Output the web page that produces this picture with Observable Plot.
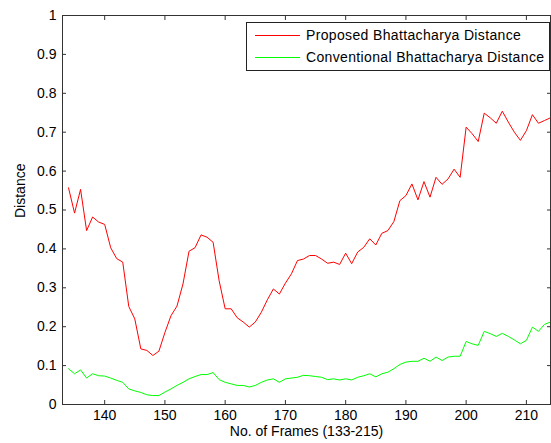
<!DOCTYPE html>
<html>
<head>
<meta charset="utf-8">
<script src="https://cdn.jsdelivr.net/npm/d3@7"></script>
<script src="https://cdn.jsdelivr.net/npm/@observablehq/plot@0.6"></script>
<style>
  body { margin: 0; background: #fff; }
  #wrap { position: relative; width: 551px; height: 443px; font-family: "Liberation Sans", Arial, sans-serif; }
  #legend { position: absolute; left: 246px; top: 22px; width: 304px; height: 49px; box-sizing: border-box;
            border: 1px solid #222; background: #fff; padding-top: 1px; font-size: 14px; letter-spacing: 0.35px; color: #000; }
  .row { height: 22px; display: flex; align-items: center; padding-left: 8px; }
  .sw { display: inline-block; width: 45px; height: 1px; margin-right: 6px; }
</style>
</head>
<body>
<div id="wrap"></div>
<script>
// Frame numbers (x)
const frames = [134,135,136,137,138,139,140,141,142,143,
                144,145,146,147,148,149,150,151,152,153,
                154,155,156,157,158,159,160,161,162,163,
                164,165,166,167,168,169,170,171,172,173,
                174,175,176,177,178,179,180,181,182,183,
                184,185,186,187,188,189,190,191,192,193,
                194,195,196,197,198,199,200,201,202,203,
                204,205,206,207,208,209,210,211,212,213,
                214];
// Proposed Bhattacharya Distance
const proposed = [0.557,0.492,0.553,0.447,0.482,0.469,0.463,0.403,0.375,0.366,
                  0.252,0.220,0.143,0.139,0.126,0.137,0.185,0.228,0.253,0.310,
                  0.394,0.403,0.436,0.430,0.417,0.318,0.246,0.246,0.223,0.212,
                  0.199,0.212,0.237,0.269,0.297,0.284,0.312,0.336,0.370,0.374,
                  0.383,0.383,0.374,0.363,0.366,0.360,0.389,0.362,0.392,0.404,
                  0.426,0.410,0.440,0.447,0.470,0.524,0.537,0.567,0.526,0.573,
                  0.533,0.584,0.566,0.580,0.605,0.584,0.713,0.696,0.676,0.749,
                  0.737,0.723,0.754,0.726,0.700,0.679,0.704,0.745,0.723,0.730,
                  0.737];
// Conventional Bhattacharya Distance
const conventional = [0.092,0.079,0.089,0.068,0.079,0.074,0.073,0.068,0.062,0.057,
                      0.040,0.035,0.031,0.025,0.023,0.023,0.032,0.040,0.049,0.057,
                      0.066,0.072,0.077,0.077,0.082,0.064,0.057,0.053,0.049,0.049,
                      0.045,0.049,0.057,0.063,0.066,0.057,0.066,0.068,0.070,0.075,
                      0.074,0.072,0.070,0.064,0.066,0.063,0.066,0.063,0.070,0.074,
                      0.079,0.071,0.079,0.083,0.092,0.103,0.109,0.111,0.111,0.119,
                      0.111,0.122,0.113,0.122,0.124,0.124,0.162,0.156,0.152,0.188,
                      0.182,0.175,0.183,0.175,0.166,0.156,0.165,0.199,0.188,0.206,
                      0.212];
const seriesNames = ["Proposed Bhattacharya Distance", "Conventional Bhattacharya Distance"];
const seriesColors = ["#ff0000", "#00ff00"];
const xTicks = [140,150,160,170,180,190,200,210];
const yTicks = [0,0.1,0.2,0.3,0.4,0.5,0.6,0.7,0.8,0.9,1];
const xDomain = [133, 214];
const yDomain = [0, 1];
const xLabel = "No. of Frames (133-215)";
const yLabel = "Distance";

const fmt = d => String(+d.toFixed(1));
const axisColor = "#333";

const plot = Plot.plot({
  width: 551, height: 443,
  marginLeft: 62, marginRight: 1, marginTop: 15, marginBottom: 39,
  style: { fontFamily: "'Liberation Sans', Arial, sans-serif", fontSize: "14px", background: "#fff", color: "#000", overflow: "visible" },
  x: { domain: xDomain },
  y: { domain: yDomain },
  marks: [
    Plot.line(frames, { x: d => d, y: (d, i) => proposed[i], stroke: seriesColors[0], strokeWidth: 1 }),
    Plot.line(frames, { x: d => d, y: (d, i) => conventional[i], stroke: seriesColors[1], strokeWidth: 1 }),
    Plot.frame({ stroke: axisColor }),
    Plot.axisX({ ticks: xTicks, tickSize: -4, tickPadding: 10, tickFormat: d => String(d), label: null, stroke: axisColor }),
    Plot.axisX({ anchor: "top", ticks: xTicks, tickSize: -4, tickFormat: () => "", label: null, stroke: axisColor }),
    Plot.axisY({ ticks: yTicks, tickSize: -4, tickPadding: 10, tickFormat: fmt, label: null, stroke: axisColor }),
    Plot.axisY({ anchor: "right", ticks: yTicks, tickSize: -4, tickFormat: () => "", label: null, stroke: axisColor }),
    Plot.text([xLabel], { text: d => d, frameAnchor: "bottom", dy: 31, fill: "#000" }),
    Plot.text([yLabel], { text: d => d, frameAnchor: "left", rotate: -90, dx: -42, dy: 8, fill: "#000" })
  ]
});

const wrap = document.getElementById("wrap");
wrap.appendChild(plot);

const legend = document.createElement("div");
legend.id = "legend";
seriesNames.forEach((name, i) => {
  const row = document.createElement("div");
  row.className = "row";
  const sw = document.createElement("span");
  sw.className = "sw";
  sw.style.background = seriesColors[i];
  const tx = document.createElement("span");
  tx.textContent = name;
  row.appendChild(sw);
  row.appendChild(tx);
  legend.appendChild(row);
});
wrap.appendChild(legend);
</script>
</body>
</html>
